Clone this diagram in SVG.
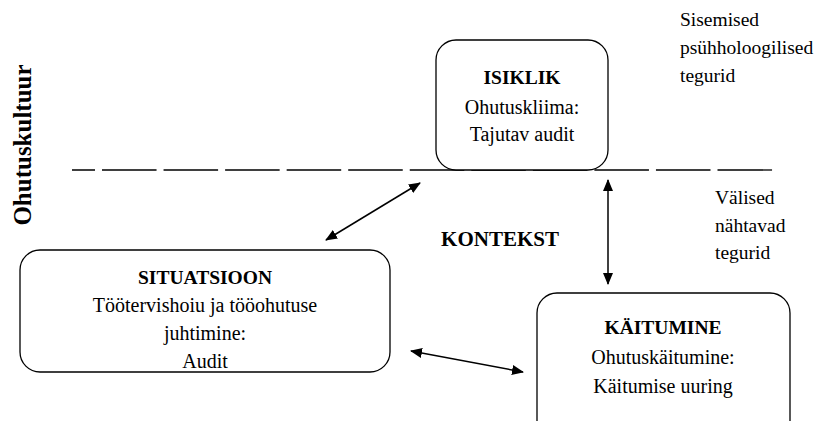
<svg xmlns="http://www.w3.org/2000/svg" width="833" height="421" viewBox="0 0 833 421">
<defs>
<marker id="ah" viewBox="0 0 12 10" refX="11" refY="5" markerWidth="12" markerHeight="10" markerUnits="userSpaceOnUse" orient="auto-start-reverse">
<path d="M0,0 L12,5 L0,10 z" fill="#000"/>
</marker>
</defs>
<style>
.box{fill:#fff;stroke:#000;stroke-width:1.3}
.n{font-family:"Liberation Serif","Times New Roman",serif;font-size:20px;fill:#000;text-anchor:middle}
.h{font-family:"Liberation Serif","Times New Roman",serif;font-size:19.5px;font-weight:bold;fill:#000;text-anchor:middle}
.l{font-family:"Liberation Serif","Times New Roman",serif;font-size:19.5px;fill:#000}
.con{stroke:#000;stroke-width:1.5;fill:none;marker-start:url(#ah);marker-end:url(#ah)}
</style>
<rect width="833" height="421" fill="#fff"/>
<text class="h" transform="translate(31,145) rotate(-90)" style="font-size:25px">Ohutuskultuur</text>
<line x1="72" y1="170" x2="773" y2="170" stroke="#000" stroke-width="1.3" stroke-dasharray="54.55 7" stroke-dashoffset="31.55"/>
<g id="isiklik">
<rect class="box" x="436" y="40" width="172" height="130" rx="20"/>
<text class="h" x="522" y="84">ISIKLIK</text>
<text class="n" x="522" y="114">Ohutuskliima:</text>
<text class="n" x="522" y="141">Tajutav audit</text>
</g>
<g id="situatsioon">
<rect class="box" x="20" y="250" width="370" height="122" rx="20"/>
<text class="h" x="205" y="284">SITUATSIOON</text>
<text class="n" x="205" y="312">Töötervishoiu ja tööohutuse</text>
<text class="n" x="205" y="340">juhtimine:</text>
<text class="n" x="205" y="368">Audit</text>
</g>
<g id="kaitumine">
<rect class="box" x="537" y="293" width="253" height="150" rx="20"/>
<text class="h" x="663" y="334">KÄITUMINE</text>
<text class="n" x="663" y="364">Ohutuskäitumine:</text>
<text class="n" x="663" y="393">Käitumise uuring</text>
</g>
<g id="labels">
<text class="l" x="680" y="26">Sisemised</text>
<text class="l" x="680" y="54">psühholoogilised</text>
<text class="l" x="680" y="82">tegurid</text>
<text class="l" x="715" y="204">Välised</text>
<text class="l" x="715" y="232">nähtavad</text>
<text class="l" x="715" y="259">tegurid</text>
<text class="h" x="500" y="246" style="font-size:21px">KONTEKST</text>
</g>
<g id="connectors">
<line class="con" x1="326" y1="240" x2="420" y2="183"/>
<line class="con" x1="411" y1="351" x2="523" y2="372"/>
<line class="con" x1="608" y1="180" x2="608" y2="284"/>
</g>
</svg>
